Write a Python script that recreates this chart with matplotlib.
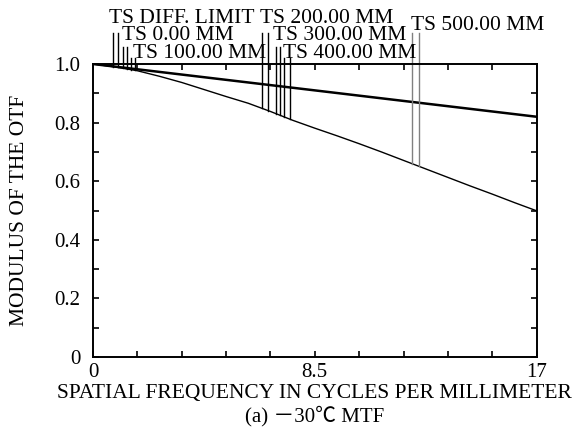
import matplotlib
matplotlib.use("Agg")
import matplotlib.pyplot as plt
import numpy as np

plt.rcParams['font.family'] = ['Liberation Serif', 'Noto Sans CJK SC', 'DejaVu Sans']

# spatial frequency samples (cycles/mm)
freq = [0, 0.85, 1.7, 2.55, 3.4, 4.25, 5.1, 5.95, 6.8, 7.65, 8.5,
        9.35, 10.2, 11.05, 11.9, 12.75, 13.6, 14.45, 15.3, 16.15, 17]
# diffraction limit
diff_limit = [1.000, 0.991, 0.982, 0.973, 0.964, 0.955, 0.946, 0.937, 0.928, 0.919, 0.910,
              0.901, 0.892, 0.883, 0.874, 0.865, 0.856, 0.847, 0.838, 0.829, 0.820]
# field curves (T and S overlap)
mtf_field = [1.000, 0.990, 0.977, 0.958, 0.937, 0.913, 0.889, 0.866, 0.838, 0.808, 0.781,
             0.755, 0.728, 0.700, 0.671, 0.642, 0.613, 0.584, 0.556, 0.527, 0.499]

# label text, marker line x positions (T, S), line top, text anchor (x, y)
labels = ['TS DIFF. LIMIT', 'TS 0.00 MM', 'TS 100.00 MM',
          'TS 200.00 MM', 'TS 300.00 MM', 'TS 400.00 MM', 'TS 500.00 MM']
marker_x = [(0.77, 0.96), (1.15, 1.30), (1.46, 1.61),
            (6.49, 6.72), (7.00, 7.16), (7.33, 7.55), (12.23, 12.49)]
marker_top = [1.106, 1.058, 1.020, 1.106, 1.058, 1.020, 1.106]
label_x = [0.62, 1.10, 1.54, 6.40, 6.90, 7.28, 12.20]
label_y = [1.140, 1.082, 1.020, 1.140, 1.082, 1.020, 1.116]
marker_color = ['black'] * 6 + ['#808080']

fig = plt.figure(figsize=(5.77, 4.29), dpi=100)
ax = fig.add_axes([0.1612, 0.1678, 0.7688, 0.6830])

ax.plot(freq, diff_limit, color='black', lw=1.8)
ax.plot(freq, mtf_field, color='black', lw=1.0)

for i in range(len(labels)):
    for mx in marker_x[i]:
        ybot = np.interp(mx, freq, mtf_field)
        ax.plot([mx, mx], [ybot, marker_top[i]], color=marker_color[i], lw=1.0, clip_on=False)
    ax.text(label_x[i], label_y[i], labels[i], fontsize=15.5, ha='left', va='baseline')

ax.set_xlim(0, 17)
ax.set_ylim(0, 1.0)
xt = np.arange(11) * 1.7
ax.set_xticks(xt)
ax.set_xticklabels(['0', '', '', '', '', '8.5', '', '', '', '', '17'])
ax.set_yticks(np.arange(11) * 0.1)
ax.set_yticklabels(['0', '', '0.2', '', '0.4', '', '0.6', '', '0.8', '', '1.0'])
ax.tick_params(direction='in', length=4.5, width=1.2, top=True, right=True,
               labelsize=15, pad=4)
ax.tick_params(axis='y', pad=9)
for s in ax.spines.values():
    s.set_linewidth(1.4)

ax.set_xlabel('SPATIAL FREQUENCY IN CYCLES PER MILLIMETER', fontsize=15.5, labelpad=2)
ax.set_ylabel('MODULUS OF THE OTF', fontsize=15.5, labelpad=18)
fig.text(0.546, 0.030, '(a) －30℃ MTF', fontsize=15, ha='center', va='center')

fig.savefig('out.png', dpi=100)
